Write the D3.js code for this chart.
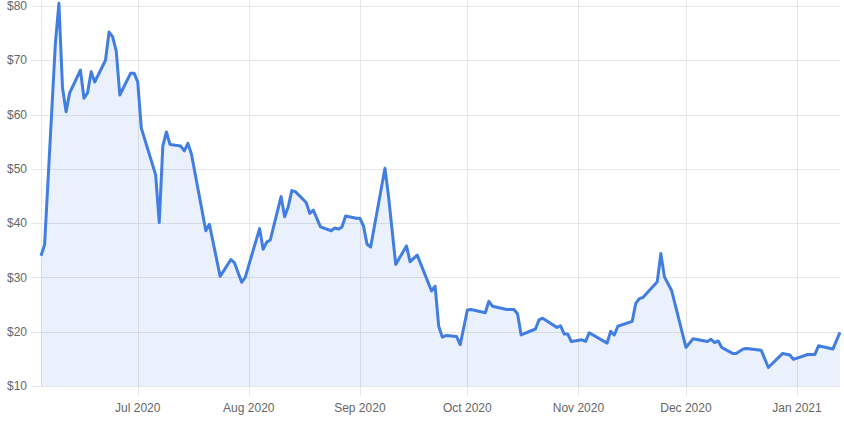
<!DOCTYPE html>
<html lang="en">
<head>
    <meta charset="UTF-8">
    <title>Price chart</title>
    <style>
        body { margin: 0; background: #fff; }
        text { font-family: "Liberation Sans", Arial, sans-serif; }
    </style>
</head>
<body>
    <svg width="844" height="422" id="svg"></svg>
    <script src="https://d3js.org/d3.v7.min.js"></script>
    <script>
        // trading days (only the visible turning points)
        let dates = ["2020-06-04","2020-06-05","2020-06-08","2020-06-09","2020-06-10","2020-06-11","2020-06-12",
            "2020-06-15","2020-06-16","2020-06-17","2020-06-18","2020-06-19","2020-06-22","2020-06-23","2020-06-24",
            "2020-06-25","2020-06-26","2020-06-29","2020-06-30","2020-07-01","2020-07-02","2020-07-06","2020-07-07",
            "2020-07-08","2020-07-09","2020-07-10","2020-07-13","2020-07-14","2020-07-15","2020-07-16","2020-07-20",
            "2020-07-21","2020-07-24","2020-07-27","2020-07-28","2020-07-30","2020-07-31","2020-08-04","2020-08-05",
            "2020-08-06","2020-08-07","2020-08-10","2020-08-11","2020-08-12","2020-08-13","2020-08-14","2020-08-17",
            "2020-08-18","2020-08-19","2020-08-21","2020-08-24","2020-08-25","2020-08-26","2020-08-27","2020-08-28",
            "2020-08-31","2020-09-01","2020-09-02","2020-09-03","2020-09-04","2020-09-08","2020-09-09","2020-09-11",
            "2020-09-14","2020-09-15","2020-09-17","2020-09-21","2020-09-22","2020-09-23","2020-09-24","2020-09-25",
            "2020-09-28","2020-09-29","2020-10-01","2020-10-02","2020-10-06","2020-10-07","2020-10-08","2020-10-12",
            "2020-10-14","2020-10-15","2020-10-16","2020-10-20","2020-10-21","2020-10-22","2020-10-26","2020-10-27",
            "2020-10-28","2020-10-29","2020-10-30","2020-11-02","2020-11-03","2020-11-04","2020-11-09","2020-11-10",
            "2020-11-11","2020-11-12","2020-11-16","2020-11-17","2020-11-18","2020-11-19","2020-11-23","2020-11-24",
            "2020-11-25","2020-11-27","2020-12-01","2020-12-03","2020-12-07","2020-12-08","2020-12-09","2020-12-10",
            "2020-12-11","2020-12-14","2020-12-15","2020-12-17","2020-12-18","2020-12-22","2020-12-24","2020-12-28",
            "2020-12-30","2020-12-31","2021-01-04","2021-01-06","2021-01-07","2021-01-11","2021-01-13"]
        let prices = [34, 36, 73, 80.5, 65, 60.5, 64,
            68.2, 63, 64, 67.9, 66, 70, 75.2, 74.3,
            71.7, 63.6, 67.6, 67.6, 66, 57.5, 48.9, 40.1,
            54.2, 56.8, 54.5, 54.2, 53.3, 54.7, 52.7, 38.6,
            39.8, 30.2, 33.3, 32.7, 29.1, 30, 39, 35.2,
            36.5, 36.9, 44.9, 41.2, 43, 46, 45.8, 43.8,
            41.8, 42.4, 39.3, 38.6, 39.1, 38.9, 39.3, 41.3,
            40.9, 40.9, 39.5, 36.1, 35.6, 50.1, 44.9, 32.4,
            35.8, 32.9, 34.1, 27.5, 28.4, 21, 19, 19.3,
            19.1, 17.6, 24, 24.1, 23.5, 25.6, 24.7, 24.1,
            24.1, 23.3, 19.4, 20.5, 22.2, 22.5, 20.8, 21.1,
            19.6, 19.6, 18.2, 18.5, 18.2, 19.8, 17.9, 20.1,
            19.4, 21, 21.9, 25.2, 26.1, 26.3, 29.2, 34.4,
            30.1, 27.6, 17.1, 18.7, 18.2, 18.6, 18, 18.3,
            17.1, 16, 16, 16.8, 16.9, 16.6, 13.4, 16,
            15.7, 14.9, 15.8, 15.8, 17.4, 16.8, 19.9]
        let yTicks = [10, 20, 30, 40, 50, 60, 70, 80]
        let xTicks = ["2020-07-01","2020-08-01","2020-09-01","2020-10-01","2020-11-01","2020-12-01","2021-01-01"]

        var parse = d3.utcParse("%Y-%m-%d")
        var data = dates.map(function (d, i) { return { date: parse(d), value: prices[i] } })

        var svg = d3.select("svg"),
            plotLeft = 41, plotRight = 840, plotTop = 6, plotBottom = 386

        var x = d3.scaleUtc().domain([parse("2020-06-04"), parse("2021-01-13")]).range([plotLeft, plotRight])
        var y = d3.scaleLinear().domain([10, 80]).range([plotBottom, plotTop])

        var grid = "#e6e6e6", label = "#666"

        // vertical grid lines + tick marks
        svg.append("line").attr("x1", plotLeft + 0.5).attr("x2", plotLeft + 0.5).attr("y1", 0).attr("y2", plotBottom)
            .attr("stroke", grid)
        svg.selectAll(".vgrid").data(xTicks).enter().append("line")
            .attr("x1", d => Math.round(x(parse(d))) + 0.5).attr("x2", d => Math.round(x(parse(d))) + 0.5)
            .attr("y1", 0).attr("y2", plotBottom + 10)
            .attr("stroke", grid)

        // horizontal grid lines + tick marks
        svg.selectAll(".hgrid").data(yTicks).enter().append("line")
            .attr("x1", plotLeft - 10).attr("x2", plotRight)
            .attr("y1", d => Math.round(y(d)) + 0.5).attr("y2", d => Math.round(y(d)) + 0.5)
            .attr("stroke", grid)

        svg.selectAll(".ylab").data(yTicks).enter().append("text")
            .attr("x", 27).attr("y", d => y(d)).attr("dy", "0.35em")
            .attr("text-anchor", "end").attr("fill", label).attr("font-size", 12)
            .text(d => "$" + d)

        var fmt = d3.utcFormat("%b %Y")
        svg.selectAll(".xlab").data(xTicks).enter().append("text")
            .attr("x", d => x(parse(d))).attr("y", 412)
            .attr("text-anchor", "middle").attr("fill", label).attr("font-size", 12)
            .text(d => fmt(parse(d)))

        var area = d3.area().x(d => x(d.date)).y0(plotBottom).y1(d => y(d.value))
        var line = d3.line().x(d => x(d.date)).y(d => y(d.value))

        svg.append("path").datum(data).attr("d", area)
            .attr("fill", "rgb(66,126,226)").attr("fill-opacity", 0.11)
        svg.append("path").datum(data).attr("d", line)
            .attr("fill", "none").attr("stroke", "rgb(66,126,226)")
            .attr("stroke-width", 3).attr("stroke-linejoin", "round")
    </script>
</body>
</html>
